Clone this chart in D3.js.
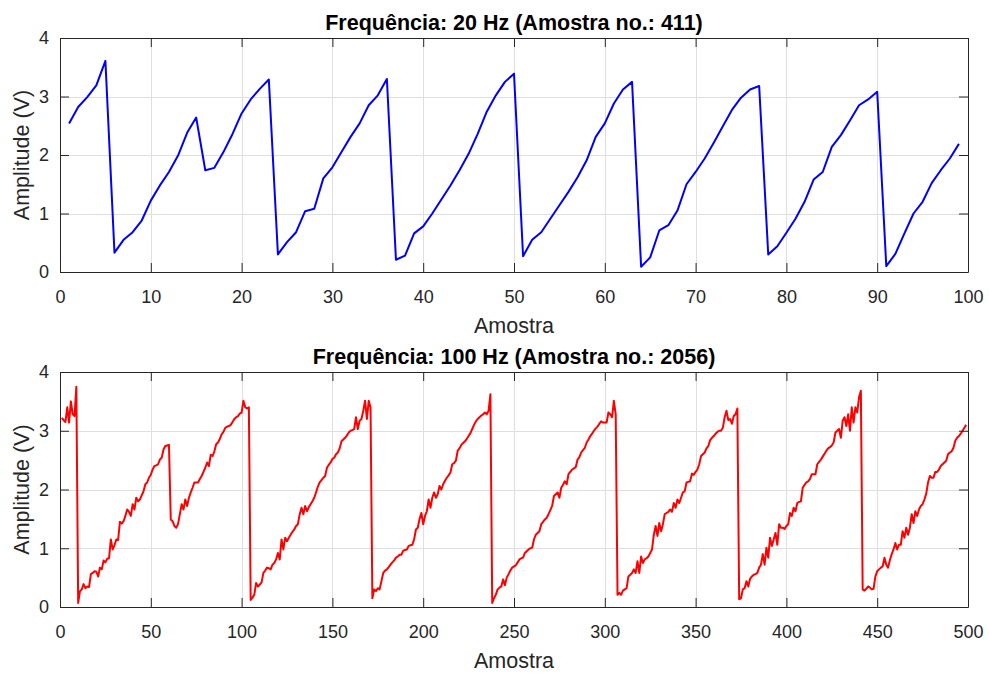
<!DOCTYPE html>
<html>
<head>
<meta charset="utf-8">
<script src="https://cdn.jsdelivr.net/npm/d3@7"></script>
<style>
  html, body { margin: 0; padding: 0; background: #ffffff; }
  svg { display: block; font-family: "Liberation Sans", Arial, Helvetica, sans-serif; }
</style>
</head>
<body>
<svg id="chart" width="989" height="673"></svg>
<script>
// ---------- DATA ----------
const titles = ["Frequência: 20 Hz (Amostra no.: 411)", "Frequência: 100 Hz (Amostra no.: 2056)"];
const xLabel = "Amostra";
const yLabel = "Amplitude (V)";
const topXTicks = [0, 10, 20, 30, 40, 50, 60, 70, 80, 90, 100];
const bottomXTicks = [0, 50, 100, 150, 200, 250, 300, 350, 400, 450, 500];
const yTicks = [0, 1, 2, 3, 4];

// 20 Hz signal, samples 1..99
const signal20 = [
  2.54, 2.82, 2.99, 3.19, 3.61, 0.33, 0.55, 0.68, 0.88, 1.22,
  1.48, 1.71, 1.99, 2.38, 2.64, 1.74, 1.78, 2.05, 2.36, 2.71,
  2.95, 3.13, 3.29, 0.30, 0.51, 0.68, 1.04, 1.08, 1.60, 1.79,
  2.05, 2.31, 2.54, 2.85, 3.02, 3.30, 0.21, 0.28, 0.66, 0.78,
  1.00, 1.24, 1.48, 1.74, 2.02, 2.36, 2.74, 3.02, 3.25, 3.39,
  0.27, 0.55, 0.68, 0.91, 1.14, 1.37, 1.62, 1.91, 2.31, 2.54,
  2.88, 3.12, 3.25, 0.09, 0.25, 0.71, 0.80, 1.05, 1.50, 1.71,
  1.94, 2.21, 2.49, 2.77, 2.98, 3.12, 3.18, 0.30, 0.44, 0.67,
  0.91, 1.20, 1.58, 1.71, 2.14, 2.34, 2.59, 2.85, 2.95, 3.08,
  0.10, 0.31, 0.66, 1.00, 1.20, 1.52, 1.74, 1.94, 2.19
];

// 100 Hz signal, samples 1..499
const signal100 = [
  3.22, 3.18, 3.15, 3.40, 3.14, 3.50, 3.28, 3.25, 3.75, 0.07,
  0.27, 0.30, 0.39, 0.32, 0.35, 0.34, 0.56, 0.58, 0.61, 0.60,
  0.52, 0.67, 0.64, 0.79, 0.76, 0.82, 0.83, 1.15, 0.98, 1.05,
  1.15, 1.14, 1.45, 1.42, 1.46, 1.55, 1.66, 1.62, 1.55, 1.75,
  1.66, 1.86, 1.80, 1.83, 1.90, 1.97, 2.09, 2.12, 2.20, 2.25,
  2.34, 2.40, 2.41, 2.43, 2.51, 2.54, 2.68, 2.74, 2.75, 2.76,
  1.49, 1.46, 1.38, 1.35, 1.41, 1.58, 1.75, 1.66, 1.83, 1.72,
  1.86, 1.95, 2.03, 2.12, 2.12, 2.12, 2.18, 2.23, 2.30, 2.37,
  2.46, 2.40, 2.59, 2.57, 2.65, 2.77, 2.80, 2.86, 2.94, 2.98,
  3.05, 3.07, 3.08, 3.10, 3.15, 3.20, 3.23, 3.25, 3.29, 3.31,
  3.51, 3.40, 3.38, 3.40, 0.12, 0.16, 0.21, 0.41, 0.35, 0.38,
  0.42, 0.58, 0.62, 0.67, 0.66, 0.64, 0.72, 0.75, 0.81, 0.92,
  0.81, 1.15, 0.98, 1.18, 1.12, 1.18, 1.23, 1.28, 1.32, 1.38,
  1.41, 1.58, 1.69, 1.58, 1.72, 1.63, 1.70, 1.75, 1.80, 1.86,
  1.95, 2.05, 2.12, 2.16, 2.20, 2.23, 2.37, 2.42, 2.46, 2.52,
  2.54, 2.60, 2.63, 2.70, 2.82, 2.85, 2.88, 2.92, 2.97, 3.00,
  3.01, 3.03, 3.23, 3.03, 3.17, 3.20, 3.34, 3.51, 3.20, 3.51,
  3.40, 0.15, 0.30, 0.27, 0.32, 0.30, 0.44, 0.58, 0.62, 0.64,
  0.68, 0.72, 0.76, 0.79, 0.84, 0.86, 0.89, 0.89, 0.96, 0.97,
  0.98, 1.04, 1.05, 1.06, 1.15, 1.32, 1.35, 1.50, 1.60, 1.41,
  1.55, 1.63, 1.83, 1.69, 1.86, 1.95, 1.86, 1.92, 2.06, 2.00,
  2.09, 2.15, 2.20, 2.24, 2.29, 2.43, 2.45, 2.49, 2.66, 2.70,
  2.76, 2.79, 2.82, 2.86, 2.91, 2.96, 3.03, 3.10, 3.16, 3.20,
  3.23, 3.26, 3.28, 3.31, 3.28, 3.34, 3.62, 0.07, 0.15, 0.21,
  0.30, 0.33, 0.35, 0.47, 0.37, 0.50, 0.56, 0.62, 0.67, 0.69,
  0.71, 0.76, 0.81, 0.83, 0.84, 0.92, 0.95, 0.98, 1.00, 1.01,
  1.15, 1.23, 1.26, 1.29, 1.41, 1.45, 1.49, 1.52, 1.58, 1.65,
  1.72, 1.89, 1.92, 1.95, 1.86, 2.03, 2.08, 2.14, 2.09, 2.26,
  2.30, 2.34, 2.36, 2.38, 2.51, 2.55, 2.63, 2.67, 2.71, 2.80,
  2.85, 2.91, 2.95, 3.00, 3.04, 3.07, 3.12, 3.16, 3.14, 3.14,
  3.14, 3.31, 3.28, 3.23, 3.51, 3.28, 0.21, 0.24, 0.21, 0.28,
  0.30, 0.32, 0.52, 0.55, 0.58, 0.64, 0.58, 0.78, 0.58, 0.86,
  0.75, 0.81, 0.83, 0.86, 0.92, 0.98, 1.23, 1.38, 1.21, 1.43,
  1.29, 1.41, 1.58, 1.60, 1.62, 1.66, 1.62, 1.77, 1.69, 1.83,
  1.77, 1.86, 1.95, 1.97, 2.12, 2.13, 2.14, 2.27, 2.25, 2.30,
  2.34, 2.43, 2.57, 2.60, 2.63, 2.70, 2.74, 2.84, 2.88, 2.91,
  2.95, 2.98, 3.00, 3.00, 3.05, 3.23, 3.34, 3.18, 3.20, 3.12,
  3.25, 3.28, 3.38, 0.13, 0.15, 0.30, 0.32, 0.44, 0.35, 0.48,
  0.52, 0.55, 0.56, 0.58, 0.67, 0.72, 0.90, 0.72, 1.01, 0.84,
  1.18, 1.04, 1.15, 1.26, 1.06, 1.41, 1.35, 1.35, 1.33, 1.38,
  1.41, 1.60, 1.55, 1.69, 1.63, 1.77, 1.79, 1.80, 2.03, 2.08,
  2.12, 2.14, 2.18, 2.26, 2.26, 2.26, 2.43, 2.47, 2.51, 2.56,
  2.61, 2.66, 2.70, 2.72, 2.75, 2.80, 2.97, 3.00, 3.03, 2.88,
  3.17, 3.23, 3.08, 3.28, 3.00, 3.40, 3.14, 3.40, 3.31, 3.57,
  3.68, 0.30, 0.28, 0.31, 0.35, 0.33, 0.30, 0.31, 0.52, 0.61,
  0.64, 0.67, 0.69, 0.84, 0.72, 0.67, 0.80, 0.90, 0.98, 1.09,
  0.98, 1.06, 1.06, 1.29, 1.18, 1.35, 1.23, 1.35, 1.58, 1.43,
  1.63, 1.55, 1.66, 1.72, 1.75, 1.83, 1.93, 2.12, 2.23, 2.20,
  2.20, 2.30, 2.30, 2.34, 2.40, 2.43, 2.46, 2.49, 2.60, 2.63,
  2.65, 2.71, 2.83, 2.88, 2.91, 2.95, 3.00, 3.05, 3.10
];

// ---------- DRAW ----------
const svg = d3.select("#chart");
const axisColor = "#262626";
const gridColor = "#dfdfdf";

const panels = [
  { values: signal20, xMax: 100, xTicks: topXTicks, color: "#0000ff", top: 38, bottom: 272, title: titles[0] },
  { values: signal100, xMax: 500, xTicks: bottomXTicks, color: "#ff0000", top: 372, bottom: 607, title: titles[1] }
];
const left = 60, right = 968;

panels.forEach(p => {
  const x = d3.scaleLinear().domain([0, p.xMax]).range([left, right]);
  const y = d3.scaleLinear().domain([0, 4]).range([p.bottom, p.top]);
  const g = svg.append("g");

  // grid
  g.append("g").selectAll("line").data(p.xTicks.slice(1, -1)).join("line")
    .attr("x1", d => Math.round(x(d)) + 0.5).attr("x2", d => Math.round(x(d)) + 0.5)
    .attr("y1", p.top).attr("y2", p.bottom)
    .attr("stroke", gridColor).attr("stroke-width", 1);
  g.append("g").selectAll("line").data(yTicks.slice(1, -1)).join("line")
    .attr("y1", d => Math.round(y(d)) + 0.5).attr("y2", d => Math.round(y(d)) + 0.5)
    .attr("x1", left).attr("x2", right)
    .attr("stroke", gridColor).attr("stroke-width", 1);

  // data line
  const pts = p.values.map((v, i) => [i + 1, v]);
  g.append("path").datum(pts)
    .attr("fill", "none").attr("stroke", p.color).attr("stroke-width", 2)
    .attr("stroke-linejoin", "round")
    .attr("d", d3.line().x(d => x(d[0])).y(d => y(d[1])));

  // axes
  const styleAxis = sel => {
    sel.selectAll("path.domain").attr("stroke", axisColor).attr("stroke-width", 1);
    sel.selectAll(".tick line").attr("stroke", axisColor).attr("stroke-width", 1);
    sel.selectAll(".tick text").attr("fill", axisColor).attr("font-size", 18)
      .attr("font-family", "'Liberation Sans', Arial, sans-serif");
  };
  g.append("g").attr("transform", `translate(0,${p.bottom})`)
    .call(d3.axisBottom(x).tickValues(p.xTicks).tickFormat(d3.format("d")).tickSize(-9).tickSizeOuter(0).tickPadding(18))
    .call(styleAxis);
  g.append("g").attr("transform", `translate(0,${p.top})`)
    .call(d3.axisTop(x).tickValues(p.xTicks).tickFormat("").tickSize(-9).tickSizeOuter(0))
    .call(styleAxis);
  g.append("g").attr("transform", `translate(${left},0)`)
    .call(d3.axisLeft(y).tickValues(yTicks).tickFormat(d3.format("d")).tickSize(-9).tickSizeOuter(0).tickPadding(11))
    .call(styleAxis);
  g.append("g").attr("transform", `translate(${right},0)`)
    .call(d3.axisRight(y).tickValues(yTicks).tickFormat("").tickSize(-9).tickSizeOuter(0))
    .call(styleAxis);

  // title
  g.append("text").attr("x", (left + right) / 2).attr("y", p.top - 8)
    .attr("text-anchor", "middle").attr("font-size", 21.5).attr("font-weight", "bold")
    .attr("fill", "#000").text(p.title);
  // x label
  g.append("text").attr("x", (left + right) / 2).attr("y", p.bottom + 61)
    .attr("text-anchor", "middle").attr("font-size", 21.5).attr("fill", axisColor).text(xLabel);
  // y label
  g.append("text").attr("transform", `translate(29,${(p.top + p.bottom) / 2}) rotate(-90)`)
    .attr("text-anchor", "middle").attr("font-size", 21.5).attr("fill", axisColor).text(yLabel);
});
</script>
</body>
</html>
